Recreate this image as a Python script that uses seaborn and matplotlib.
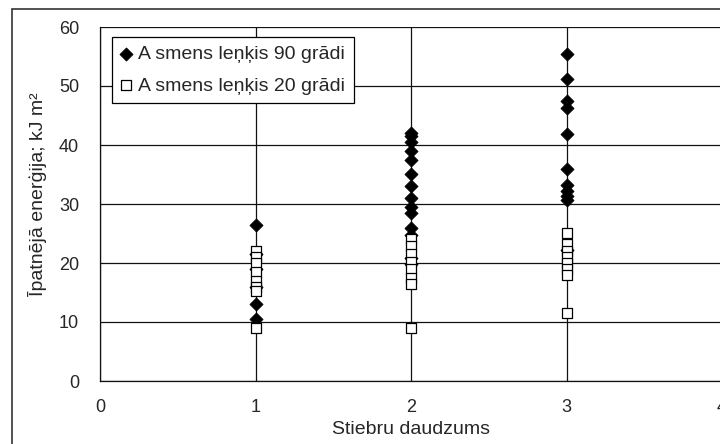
import matplotlib
matplotlib.use("Agg")
import matplotlib.pyplot as plt
from matplotlib.patches import Rectangle
import pandas as pd
import seaborn as sns

# Stem count per sample
x_90 = [1, 1, 1, 1, 1, 1,
        2, 2, 2, 2, 2, 2, 2, 2, 2, 2, 2, 2, 2, 2,
        3, 3, 3, 3, 3, 3, 3, 3, 3, 3, 3]
# Specific energy, blade angle 90 degrees (kJ m-2)
y_90 = [26.5, 21.5, 19.0, 16.0, 13.0, 10.5,
        42.0, 41.5, 40.5, 39.0, 37.5, 35.0, 33.0, 31.0, 29.5, 28.5, 26.0, 24.8, 20.8, 19.8,
        55.5, 51.2, 47.5, 46.2, 41.8, 36.0, 33.2, 32.2, 31.3, 30.6, 22.2]

x_20 = [1, 1, 1, 1, 1, 1, 1, 1,
        2, 2, 2, 2, 2, 2, 2, 2,
        3, 3, 3, 3, 3, 3, 3, 3]
# Specific energy, blade angle 20 degrees (kJ m-2)
y_20 = [22.0, 21.0, 20.0, 18.5, 17.0, 16.0, 15.3, 9.0,
        24.0, 22.8, 21.5, 20.2, 19.0, 17.5, 16.5, 9.0,
        25.0, 23.2, 22.0, 21.0, 20.0, 19.0, 18.0, 11.5]

x_ticks = [0, 1, 2, 3, 4]
y_ticks = [0, 10, 20, 30, 40, 50, 60]
label_90 = "A smens leņķis 90 grādi"
label_20 = "A smens leņķis 20 grādi"
x_title = "Stiebru daudzums"
y_title = "Īpatnējā enerģija; kJ m²"

sns.set_style("white")
plt.rcParams["font.family"] = ["Liberation Sans", "DejaVu Sans"]
plt.rcParams["font.size"] = 13

df90 = pd.DataFrame({"x": x_90, "y": y_90})
df20 = pd.DataFrame({"x": x_20, "y": y_20})

fig = plt.figure(figsize=(7.2, 4.44), dpi=100)
ax = fig.add_axes([100 / 720, 63 / 444, 622 / 720, 354 / 444])

sns.scatterplot(data=df90, x="x", y="y", ax=ax, marker="D", s=44,
                color="black", edgecolor="black", linewidth=0.6,
                label=label_90, zorder=3)
sns.scatterplot(data=df20, x="x", y="y", ax=ax, marker="s", s=42,
                color="white", edgecolor="black", linewidth=0.9,
                label=label_20, zorder=4)

ax.set_xlim(0, 4)
ax.set_ylim(0, 60)
ax.set_xticks(x_ticks)
ax.set_yticks(y_ticks)
ax.grid(True, color="#111111", linewidth=0.9)
ax.set_axisbelow(True)

for side in ("top", "right"):
    ax.spines[side].set_visible(False)
for side in ("left", "bottom"):
    ax.spines[side].set_color("#111111")
    ax.spines[side].set_linewidth(0.9)

ax.tick_params(axis="y", direction="out", length=5, width=0.9, color="#111111",
               pad=10, labelsize=13)
ax.tick_params(axis="x", direction="inout", length=10, width=0.9, color="#111111",
               pad=8, labelsize=13)

ax.set_xlabel(x_title, fontsize=14)
ax.set_ylabel(y_title, fontsize=14)
ax.xaxis.set_label_coords(0.5, -0.113)
ax.yaxis.set_label_coords(-0.085, 0.528)

leg = ax.legend(loc="upper left", bbox_to_anchor=(112 / 720, 1 - 37 / 444),
                bbox_transform=fig.transFigure, frameon=True, fancybox=False,
                framealpha=1, edgecolor="black", fontsize=14,
                handlelength=0.5, handletextpad=0.4, labelspacing=0.7,
                borderpad=0.45, borderaxespad=0)
leg.get_frame().set_linewidth(0.9)

# Outer chart border
fig.patches.append(Rectangle((12 / 720, -0.1), 1.2, 1.1 - 9 / 444,
                             transform=fig.transFigure, fill=False,
                             edgecolor="#333333", linewidth=1.2))

fig.savefig("out.png", dpi=100)
